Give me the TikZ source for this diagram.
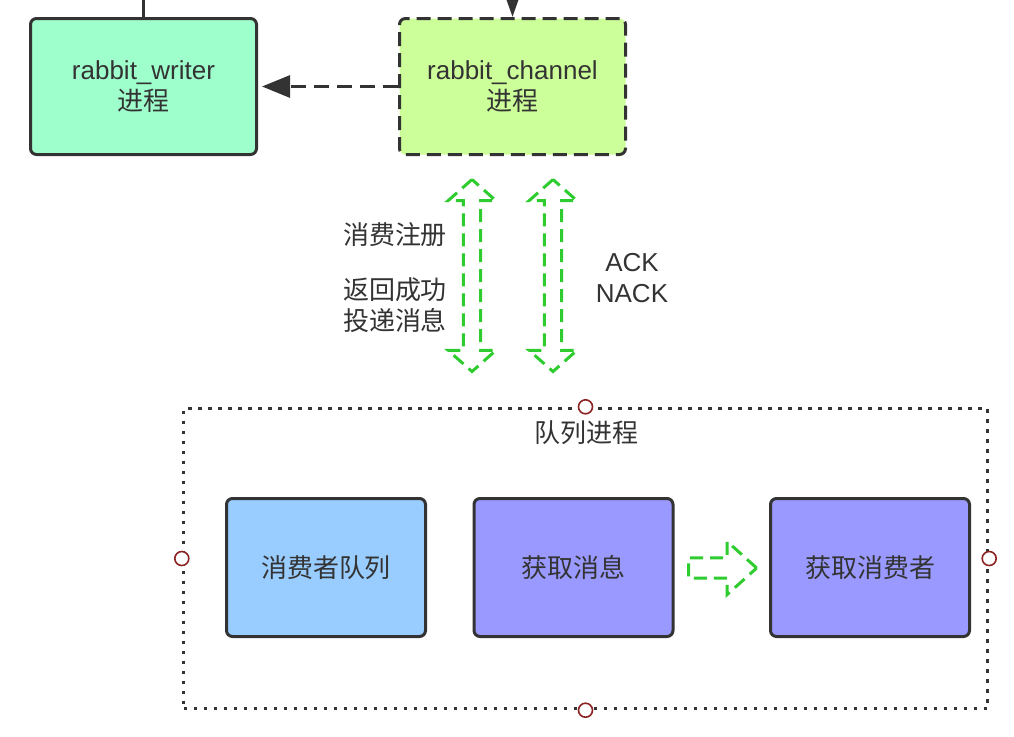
\documentclass[tikz,border=0pt]{standalone}
\usepackage{fontspec}
\setmainfont{Liberation Sans}
\newfontfamily\cjk{Noto Sans CJK SC}
\usetikzlibrary{arrows.meta,shapes.arrows}

\definecolor{ink}{HTML}{333333}
\definecolor{writerfill}{HTML}{9EFFCC}
\definecolor{chanfill}{HTML}{CCFF99}
\definecolor{cqfill}{HTML}{99CCFF}
\definecolor{fetchfill}{HTML}{9999FF}
\definecolor{flowgreen}{HTML}{2ECC2E}
\definecolor{portred}{HTML}{8B2323}

\tikzset{
  flow/.style={draw=flowgreen, line width=1.5pt, dash pattern=on 6.5pt off 3.5pt, inner xsep=0pt, text height=0pt, text depth=0pt},
  port/.style={circle, draw=portred, fill=white, line width=0.8pt, minimum size=7pt, inner sep=0pt}
}

\begin{document}
\begin{tikzpicture}[x=0.5pt,y=-0.5pt,font=\fontsize{13}{15.5}\selectfont,text=ink]

      \useasboundingbox (0,0) rectangle (1014,736);

      \begin{scope}[every node/.style={draw=ink,line width=1.5pt,rounded corners=3pt,minimum width=113pt,minimum height=68pt,align=center}]
        \node[fill=writerfill] (writer)  at (143.5,86.5) {rabbit\_writer\\{\cjk 进程}};
        \node[fill=chanfill,dash pattern=on 7pt off 3.5pt] (channel) at (512.5,86.5) {rabbit\_channel\\{\cjk 进程}};
      \end{scope}

      \node[draw=ink,line width=1.7pt,dash pattern=on 1.6pt off 3.4pt,minimum width=402pt,minimum height=150pt] (queue) at (585.5,558.5) {};
      \node[font=\cjk\fontsize{13}{15.5}\selectfont] (qlabel) at (586,433) {队列进程};
      \foreach \a in {north,south,east,west}
        \node[port] (p-\a) at (queue.\a) {};

      \begin{scope}[every node/.style={draw=ink,line width=1.5pt,rounded corners=3pt,minimum width=99.5pt,minimum height=69pt,font=\cjk\fontsize{13}{15.5}\selectfont}]
        \node[fill=cqfill]    (cq)        at (326,567.5)   {消费者队列};
        \node[fill=fetchfill] (fetchmsg)  at (573.5,567.5) {获取消息};
        \node[fill=fetchfill] (fetchcons) at (870,567.5)   {获取消费者};
      \end{scope}

      \begin{scope}[every node/.style={font=\cjk\fontsize{13}{15.5}\selectfont,align=center}]
        \node (reglabel) at (395,235) {消费注册};
        \node (deliverlabel) at (395,305) {返回成功\\投递消息};
      \end{scope}
      \node[align=center] (acklabel) at (632,278) {ACK\\NACK};

      % green flows
      \node[flow,double arrow,rotate=90,inner ysep=3.2pt,minimum height=96pt,minimum width=24pt,
            double arrow tip angle=97] (regflow) at (472,275.5) {};
      \node[flow,double arrow,rotate=90,inner ysep=3.2pt,minimum height=96pt,minimum width=24pt,
            double arrow tip angle=97] (ackflow) at (553,275.5) {};
      \node[flow,single arrow,inner ysep=3.7pt,minimum height=34pt,minimum width=26.5pt,
            single arrow tip angle=84] (fetchflow) at (717,568) {};

      % connectors
      \coordinate (top) at (0,-20);
      \draw[ink,line width=1.5pt] (writer.north) -- (writer.north |- top);
      \draw[ink,line width=1.5pt,-{Triangle[length=12pt,width=8pt]}] (channel.north |- top) -- (channel.north);
      \draw[ink,line width=1.5pt,dash pattern=on 7.5pt off 4pt,-{Triangle[length=14pt,width=11pt]},shorten >=2pt] (channel.west) -- (writer.east);

    \end{tikzpicture}
\end{document}
